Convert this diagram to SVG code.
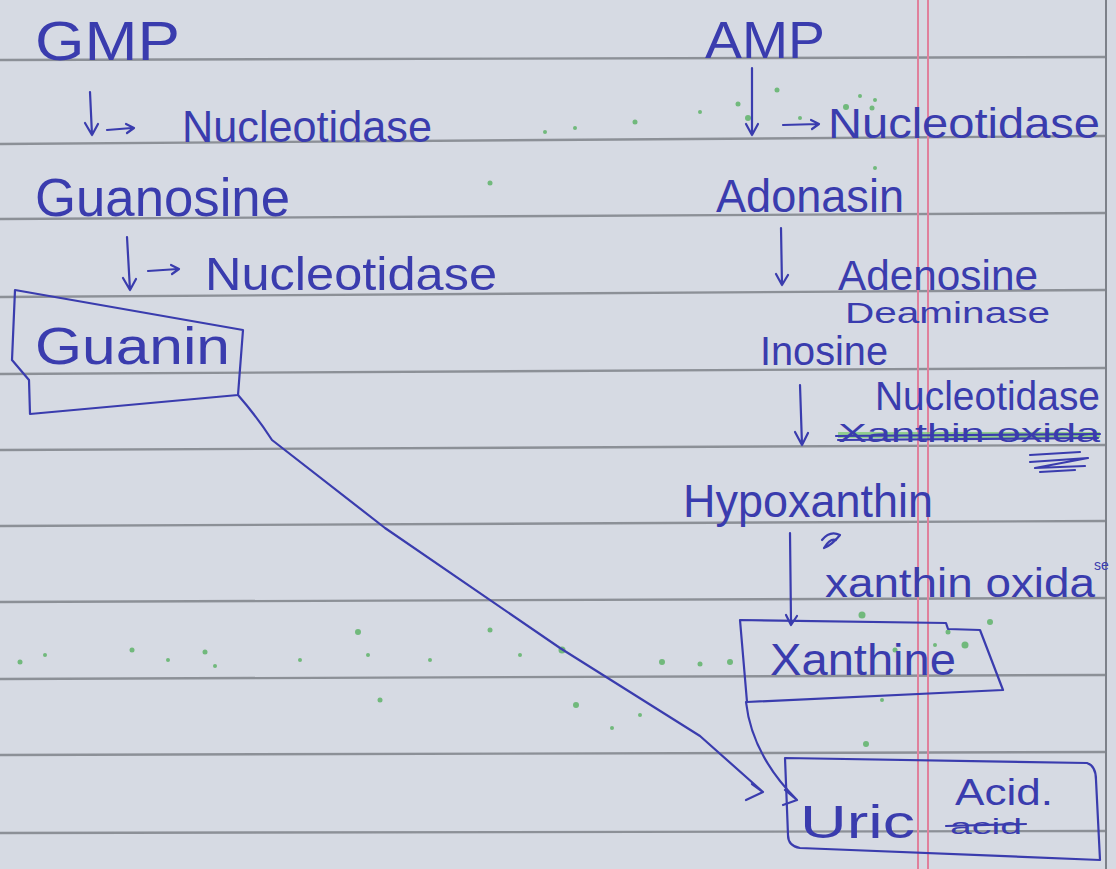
<svg xmlns="http://www.w3.org/2000/svg" width="1116" height="869" viewBox="0 0 1116 869">
<defs>
<style>
.ink{fill:#3a3cae;font-family:"Liberation Sans","DejaVu Sans",sans-serif;}
.stroke{fill:none;stroke:#3a3cae;stroke-width:2.2;stroke-linecap:round;stroke-linejoin:round;}
.rule{stroke:#8c9097;stroke-width:2.4;}
.margin{stroke:#e0809c;stroke-width:2;}
.dot{fill:#4fae5a;opacity:0.75;}
</style>
</defs>
<rect x="0" y="0" width="1116" height="869" fill="#d6dae3"/>
<g id="paper">
<line class="rule" x1="0" y1="60" x2="1105" y2="57"/>
<line class="rule" x1="0" y1="144" x2="1105" y2="136"/>
<line class="rule" x1="0" y1="219" x2="1105" y2="213"/>
<line class="rule" x1="0" y1="297" x2="1105" y2="290"/>
<line class="rule" x1="0" y1="374" x2="1105" y2="368"/>
<line class="rule" x1="0" y1="450" x2="1105" y2="445"/>
<line class="rule" x1="0" y1="526" x2="1105" y2="521"/>
<line class="rule" x1="0" y1="602" x2="1105" y2="598"/>
<line class="rule" x1="0" y1="679" x2="1105" y2="675"/>
<line class="rule" x1="0" y1="755" x2="1105" y2="752"/>
<line class="rule" x1="0" y1="833" x2="1105" y2="831"/>
<line class="margin" x1="918" y1="0" x2="918" y2="869"/>
<line class="margin" x1="928" y1="0" x2="928" y2="869"/>
<line x1="1106" y1="0" x2="1106" y2="869" stroke="#7d8189" stroke-width="2"/>
<circle class="dot" cx="635" cy="122" r="2.5"/><circle class="dot" cx="700" cy="112" r="2"/>
<circle class="dot" cx="738" cy="104" r="2.5"/><circle class="dot" cx="748" cy="118" r="3"/>
<circle class="dot" cx="777" cy="90" r="2.5"/><circle class="dot" cx="800" cy="118" r="2"/>
<circle class="dot" cx="846" cy="107" r="3"/><circle class="dot" cx="872" cy="108" r="2.5"/>
<circle class="dot" cx="860" cy="96" r="2"/><circle class="dot" cx="875" cy="100" r="2"/>
<circle class="dot" cx="575" cy="128" r="2"/><circle class="dot" cx="545" cy="132" r="2"/>
<circle class="dot" cx="490" cy="183" r="2.5"/><circle class="dot" cx="875" cy="168" r="2"/>
<circle class="dot" cx="20" cy="662" r="2.5"/><circle class="dot" cx="45" cy="655" r="2"/>
<circle class="dot" cx="132" cy="650" r="2.5"/><circle class="dot" cx="168" cy="660" r="2"/>
<circle class="dot" cx="205" cy="652" r="2.5"/><circle class="dot" cx="215" cy="666" r="2"/>
<circle class="dot" cx="358" cy="632" r="3"/><circle class="dot" cx="380" cy="700" r="2.5"/>
<circle class="dot" cx="368" cy="655" r="2"/><circle class="dot" cx="490" cy="630" r="2.5"/>
<circle class="dot" cx="520" cy="655" r="2"/><circle class="dot" cx="562" cy="650" r="3.5"/>
<circle class="dot" cx="576" cy="705" r="3"/><circle class="dot" cx="612" cy="728" r="2"/>
<circle class="dot" cx="640" cy="715" r="2"/><circle class="dot" cx="662" cy="662" r="3"/>
<circle class="dot" cx="700" cy="664" r="2.5"/><circle class="dot" cx="730" cy="662" r="3"/>
<circle class="dot" cx="862" cy="615" r="3.5"/><circle class="dot" cx="895" cy="650" r="2.5"/>
<circle class="dot" cx="965" cy="645" r="3.5"/><circle class="dot" cx="990" cy="622" r="3"/>
<circle class="dot" cx="948" cy="632" r="2.5"/><circle class="dot" cx="935" cy="645" r="2"/>
<circle class="dot" cx="866" cy="744" r="3"/><circle class="dot" cx="882" cy="700" r="2"/>
<circle class="dot" cx="430" cy="660" r="2"/><circle class="dot" cx="300" cy="660" r="2"/>
</g>
<g id="connectors">
<path class="stroke" d="M90,92 L92,135 M85,123 L92,135 L98,124"/>
<path class="stroke" d="M107,130 L132,128 M126,124 L134,128 L127,133"/>
<path class="stroke" d="M127,237 L130,290 M123,278 L130,290 L136,279"/>
<path class="stroke" d="M148,271 L178,269 M171,265 L179,269 L172,274"/>
<path class="stroke" d="M752,68 L752,135 M746,124 L752,135 L758,124"/>
<path class="stroke" d="M783,125 L818,124 M811,120 L819,124 L812,129"/>
<path class="stroke" d="M781,228 L782,285 M776,274 L782,285 L788,275"/>
<path class="stroke" d="M800,385 L802,445 M795,432 L802,445 L808,433"/>
<path class="stroke" d="M790,533 L791,622 M786,615 L791,625 L797,616"/>
<path class="stroke" d="M238,395 Q258,418 272,440 L385,528 L560,648 L700,736 L763,792 M746,800 L763,792 L752,784"/>
<path class="stroke" d="M746,702 Q752,755 797,800 M785,790 L797,800 L783,805"/>
</g>
<g id="gmp"><text class="ink" x="35" y="60" font-size="56" textLength="145" lengthAdjust="spacingAndGlyphs">GMP</text></g>
<g id="gmp-enzyme"><text class="ink" x="182" y="142" font-size="44" textLength="250" lengthAdjust="spacingAndGlyphs">Nucleotidase</text></g>
<g id="guanosine"><text class="ink" x="35" y="216" font-size="54" textLength="255" lengthAdjust="spacingAndGlyphs">Guanosine</text></g>
<g id="guanosine-enzyme"><text class="ink" x="205" y="290" font-size="46" textLength="292" lengthAdjust="spacingAndGlyphs">Nucleotidase</text></g>
<g id="guanin">
<path class="stroke" d="M15,290 L243,330 L238,395 L30,414 L29,380 L12,360 Z"/>
<text class="ink" x="35" y="364" font-size="52" textLength="195" lengthAdjust="spacingAndGlyphs">Guanin</text>
</g>
<g id="amp"><text class="ink" x="705" y="58" font-size="52" textLength="120" lengthAdjust="spacingAndGlyphs">AMP</text></g>
<g id="amp-enzyme"><text class="ink" x="828" y="138" font-size="42" textLength="272" lengthAdjust="spacingAndGlyphs">Nucleotidase</text></g>
<g id="adenosine"><text class="ink" x="716" y="212" font-size="46" textLength="188" lengthAdjust="spacingAndGlyphs">Adonasin</text></g>
<g id="deaminase">
<text class="ink" x="838" y="290" font-size="42" textLength="200" lengthAdjust="spacingAndGlyphs">Adenosine</text>
<text class="ink" x="845" y="323" font-size="30" textLength="205" lengthAdjust="spacingAndGlyphs">Deaminase</text>
</g>
<g id="inosine"><text class="ink" x="760" y="365" font-size="40" textLength="128" lengthAdjust="spacingAndGlyphs">Inosine</text></g>
<g id="inosine-enzyme">
<text class="ink" x="875" y="410" font-size="40" textLength="225" lengthAdjust="spacingAndGlyphs">Nucleotidase</text>
<rect x="838" y="432" width="262" height="6" fill="#74c96a" opacity="0.7"/>
<text class="ink" x="838" y="442" font-size="26" textLength="262" lengthAdjust="spacingAndGlyphs">Xanthin oxida</text>
<path class="stroke" stroke-width="3" d="M836,436 L1100,434 M838,440 L1098,438 M1030,455 L1080,452 M1030,462 L1088,458 L1035,468 L1085,466 M1040,472 L1075,470"/>
</g>
<g id="hypoxanthin">
<text class="ink" x="683" y="517" font-size="46" textLength="250" lengthAdjust="spacingAndGlyphs">Hypoxanthin</text>
<path class="stroke" stroke-width="3" d="M822,540 Q830,530 840,535 Q832,545 824,548 Q830,538 836,540"/>
</g>
<g id="hypoxanthin-enzyme">
<text class="ink" x="825" y="597" font-size="40" textLength="270" lengthAdjust="spacingAndGlyphs">xanthin oxida</text>
<text class="ink" x="1094" y="570" font-size="14">se</text>
</g>
<g id="xanthine">
<path class="stroke" d="M740,620 L946,623 L948,629 L980,630 L1003,690 L747,702 Z"/>
<text class="ink" x="770" y="675" font-size="44" textLength="186" lengthAdjust="spacingAndGlyphs">Xanthine</text>
</g>
<g id="uric-acid">
<path class="stroke" d="M785,758 L1087,763 Q1096,766 1096,780 L1100,860 L800,848 Q788,846 788,835 Z"/>
<text class="ink" x="800" y="838" font-size="46" textLength="115" lengthAdjust="spacingAndGlyphs">Uric</text>
<text class="ink" x="955" y="805" font-size="36" textLength="98" lengthAdjust="spacingAndGlyphs">Acid.</text>
<text class="ink" x="950" y="834" font-size="22" textLength="72" lengthAdjust="spacingAndGlyphs">acid</text>
<path class="stroke" d="M946,826 L1026,824"/>
</g>
</svg>
